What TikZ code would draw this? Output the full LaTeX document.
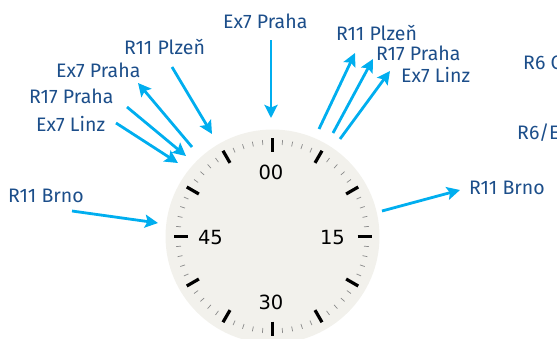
\documentclass[tikz,border=0pt]{standalone}
\usepackage{fontspec}
\setmainfont{Fira Sans}
\newfontfamily\dialfont{DejaVu Sans}
\usetikzlibrary{arrows.meta, calc}
\definecolor{trainblue}{HTML}{1C4E8A}
\definecolor{arrowcyan}{HTML}{00AEEF}
\definecolor{dialface}{HTML}{F2F1EC}
\definecolor{minortick}{HTML}{8A8A8A}

\tikzset{
  train/.style={font=\fontsize{19.5}{21}\selectfont, text=trainblue, anchor=base west, inner sep=0pt},
  dep/.style={-{Stealth[length=13pt, width=13pt, inset=2.5pt]}, arrowcyan, line width=2.8pt},
  num/.style={font=\dialfont\fontsize{19.5}{20}\selectfont, text=black, inner sep=0pt}
}

\begin{document}
\begin{tikzpicture}[x=1pt, y=-1pt]

% Canvas
\useasboundingbox (0,0) rectangle (557,338);
\clip (0,0) rectangle (557,338);

% --- Dial ---
\coordinate (c) at (272.5,236.5);
\fill[dialface] (c) circle (107);

% minute ticks
\foreach \m in {0,...,59} {
  \draw[minortick, line width=0.7pt] ($(c)+({90+6*\m}:92)$) -- ($(c)+({90+6*\m}:97)$);
}
% five-minute ticks
\foreach \m in {0,5,...,55} {
  \draw[black, line width=3.2pt] ($(c)+({90+6*\m}:85)$) -- ($(c)+({90+6*\m}:99)$);
}

% quarter numbers
\node[num] (n00) at (271,172.5) {00};
\node[num] (n15) at (332.5,238) {15};
\node[num] (n30) at (271,302.5) {30};
\node[num] (n45) at (210.5,238) {45};

% --- Arrivals (left / top) ---
\node[train] (arrEx7top) at (223,28) {Ex7 Praha};
\node[train] (arrR11Pl) at (124,54) {R11 Plzeň};
\node[train] (depEx7Pr) at (56,77) {Ex7 Praha};
\node[train] (arrR17Pr) at (29,103) {R17 Praha};
\node[train] (arrEx7Li) at (36,131) {Ex7 Linz};
\node[train] (arrR11Br) at (8,202) {R11 Brno};

% --- Departures (right) ---
\node[train] (depR11Pl) at (336,40) {R11 Plzeň};
\node[train] (depR17Pr) at (376,60) {R17 Praha};
\node[train] (depEx7Li) at (401,82) {Ex7 Linz};
\node[train] (depR11Br) at (469,194) {R11 Brno};
\node[train] (depR6C) at (523,69) {R6 C};
\node[train] (depR6E) at (517,139) {R6/E};

% arrow ends
\coordinate (a1s) at (271,40);    \coordinate (a1e) at (271,118);
\coordinate (a2s) at (172,67);    \coordinate (a2e) at (212,134);
\coordinate (a3s) at (192,147);   \coordinate (a3e) at (138,83);
\coordinate (a4s) at (127,107);   \coordinate (a4e) at (186,156);
\coordinate (a5s) at (116,123);   \coordinate (a5e) at (178,163);
\coordinate (a6s) at (72,211);    \coordinate (a6e) at (158,223);
\coordinate (b1s) at (319,129);   \coordinate (b1e) at (355,53);
\coordinate (b2s) at (333,133);   \coordinate (b2e) at (373,59);
\coordinate (b3s) at (340,139);   \coordinate (b3e) at (390,71);
\coordinate (b4s) at (382,211);   \coordinate (b4e) at (460,190);

\draw[dep] (a1s) -- (a1e);
\draw[dep] (a2s) -- (a2e);
\draw[dep] (a3s) -- (a3e);
\draw[dep] (a4s) -- (a4e);
\draw[dep] (a5s) -- (a5e);
\draw[dep] (a6s) -- (a6e);
\draw[dep] (b1s) -- (b1e);
\draw[dep] (b2s) -- (b2e);
\draw[dep] (b3s) -- (b3e);
\draw[dep] (b4s) -- (b4e);

\end{tikzpicture}
\end{document}
